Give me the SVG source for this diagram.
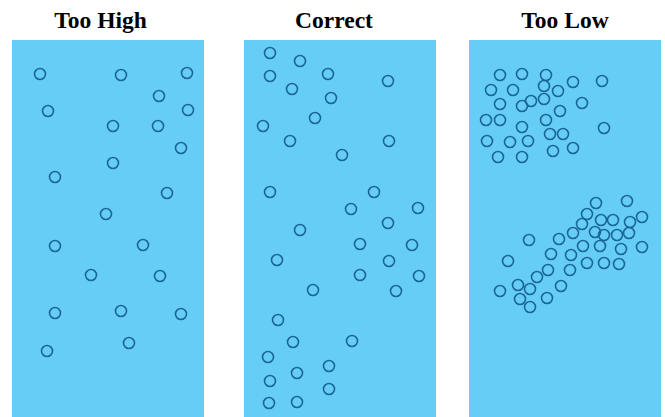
<svg xmlns="http://www.w3.org/2000/svg" width="665" height="417" viewBox="0 0 665 417">
<style>
.panel{fill:#66cef6}
.t{font-family:"Liberation Serif","Times New Roman",serif;font-weight:bold;font-size:23.5px;fill:#000;text-anchor:middle}
circle{fill:none;stroke:#1a659a;stroke-width:1.6}
</style>
<rect width="665" height="417" fill="#fff"/>
<g id="too-high">
<text class="t" x="100.5" y="28">Too High</text>
<rect class="panel" x="12" y="40" width="192" height="377"/>
<circle cx="40" cy="74" r="5.5"/><circle cx="121" cy="75" r="5.5"/><circle cx="187" cy="73" r="5.5"/>
<circle cx="159" cy="96" r="5.5"/><circle cx="48" cy="111" r="5.5"/><circle cx="188" cy="110" r="5.5"/>
<circle cx="113" cy="126" r="5.5"/><circle cx="158" cy="126" r="5.5"/><circle cx="181" cy="148" r="5.5"/>
<circle cx="113" cy="163" r="5.5"/><circle cx="55" cy="177" r="5.5"/><circle cx="167" cy="193" r="5.5"/>
<circle cx="106" cy="214" r="5.5"/><circle cx="55" cy="246" r="5.5"/><circle cx="143" cy="245" r="5.5"/>
<circle cx="91" cy="275" r="5.5"/><circle cx="160" cy="276" r="5.5"/><circle cx="55" cy="313" r="5.5"/>
<circle cx="121" cy="311" r="5.5"/><circle cx="181" cy="314" r="5.5"/><circle cx="47" cy="351" r="5.5"/>
<circle cx="129" cy="343" r="5.5"/>
</g>
<g id="correct">
<text class="t" x="334" y="28">Correct</text>
<rect class="panel" x="244" y="40" width="192" height="377"/>
<circle cx="270" cy="53" r="5.5"/><circle cx="300" cy="61" r="5.5"/><circle cx="270" cy="76" r="5.5"/>
<circle cx="328" cy="74" r="5.5"/><circle cx="388" cy="81" r="5.5"/><circle cx="292" cy="89" r="5.5"/>
<circle cx="331" cy="98" r="5.5"/><circle cx="315" cy="118" r="5.5"/><circle cx="263" cy="126" r="5.5"/>
<circle cx="290" cy="141" r="5.5"/><circle cx="389" cy="141" r="5.5"/><circle cx="342" cy="155" r="5.5"/>
<circle cx="270" cy="192" r="5.5"/><circle cx="374" cy="192" r="5.5"/><circle cx="351" cy="209" r="5.5"/>
<circle cx="418" cy="208" r="5.5"/><circle cx="388" cy="223" r="5.5"/><circle cx="300" cy="230" r="5.5"/>
<circle cx="360" cy="244" r="5.5"/><circle cx="412" cy="245" r="5.5"/><circle cx="277" cy="260" r="5.5"/>
<circle cx="389" cy="261" r="5.5"/><circle cx="360" cy="275" r="5.5"/><circle cx="419" cy="276" r="5.5"/>
<circle cx="313" cy="290" r="5.5"/><circle cx="396" cy="291" r="5.5"/><circle cx="278" cy="320" r="5.5"/>
<circle cx="293" cy="342" r="5.5"/><circle cx="352" cy="341" r="5.5"/><circle cx="268" cy="357" r="5.5"/>
<circle cx="329" cy="366" r="5.5"/><circle cx="297" cy="373" r="5.5"/><circle cx="270" cy="381" r="5.5"/>
<circle cx="329" cy="389" r="5.5"/><circle cx="269" cy="403" r="5.5"/><circle cx="297" cy="402" r="5.5"/>
</g>
<g id="too-low">
<text class="t" x="565" y="28">Too Low</text>
<rect class="panel" x="469" y="40" width="192" height="377"/>
<circle cx="500" cy="75" r="5.5"/><circle cx="522" cy="74" r="5.5"/><circle cx="546" cy="75" r="5.5"/>
<circle cx="544" cy="86" r="5.5"/><circle cx="573" cy="82" r="5.5"/><circle cx="602" cy="81" r="5.5"/>
<circle cx="491" cy="90" r="5.5"/><circle cx="513" cy="90" r="5.5"/><circle cx="558" cy="91" r="5.5"/>
<circle cx="500" cy="104" r="5.5"/><circle cx="522" cy="106" r="5.5"/><circle cx="531" cy="101" r="5.5"/>
<circle cx="544" cy="99" r="5.5"/><circle cx="582" cy="103" r="5.5"/><circle cx="560" cy="111" r="5.5"/>
<circle cx="486" cy="120" r="5.5"/><circle cx="500" cy="120" r="5.5"/><circle cx="546" cy="120" r="5.5"/>
<circle cx="522" cy="127" r="5.5"/><circle cx="604" cy="128" r="5.5"/><circle cx="550" cy="134" r="5.5"/>
<circle cx="563" cy="134" r="5.5"/><circle cx="487" cy="141" r="5.5"/><circle cx="510" cy="142" r="5.5"/>
<circle cx="528" cy="141" r="5.5"/><circle cx="553" cy="151" r="5.5"/><circle cx="573" cy="148" r="5.5"/>
<circle cx="498" cy="157" r="5.5"/><circle cx="522" cy="157" r="5.5"/>
<circle cx="596" cy="203" r="5.5"/><circle cx="627" cy="201" r="5.5"/><circle cx="587" cy="214" r="5.5"/>
<circle cx="601" cy="220" r="5.5"/><circle cx="613" cy="220" r="5.5"/><circle cx="630" cy="222" r="5.5"/>
<circle cx="642" cy="217" r="5.5"/><circle cx="582" cy="224" r="5.5"/><circle cx="573" cy="233" r="5.5"/>
<circle cx="595" cy="232" r="5.5"/><circle cx="604" cy="235" r="5.5"/><circle cx="617" cy="235" r="5.5"/>
<circle cx="629" cy="233" r="5.5"/><circle cx="529" cy="240" r="5.5"/><circle cx="559" cy="239" r="5.5"/>
<circle cx="583" cy="246" r="5.5"/><circle cx="600" cy="246" r="5.5"/><circle cx="621" cy="249" r="5.5"/>
<circle cx="642" cy="247" r="5.5"/><circle cx="508" cy="261" r="5.5"/><circle cx="551" cy="254" r="5.5"/>
<circle cx="571" cy="255" r="5.5"/><circle cx="587" cy="263" r="5.5"/><circle cx="604" cy="263" r="5.5"/>
<circle cx="619" cy="264" r="5.5"/><circle cx="548" cy="270" r="5.5"/><circle cx="570" cy="270" r="5.5"/>
<circle cx="537" cy="277" r="5.5"/><circle cx="518" cy="285" r="5.5"/><circle cx="530" cy="289" r="5.5"/>
<circle cx="561" cy="286" r="5.5"/><circle cx="500" cy="291" r="5.5"/><circle cx="520" cy="299" r="5.5"/>
<circle cx="547" cy="298" r="5.5"/><circle cx="530" cy="307" r="5.5"/>
</g>
</svg>
